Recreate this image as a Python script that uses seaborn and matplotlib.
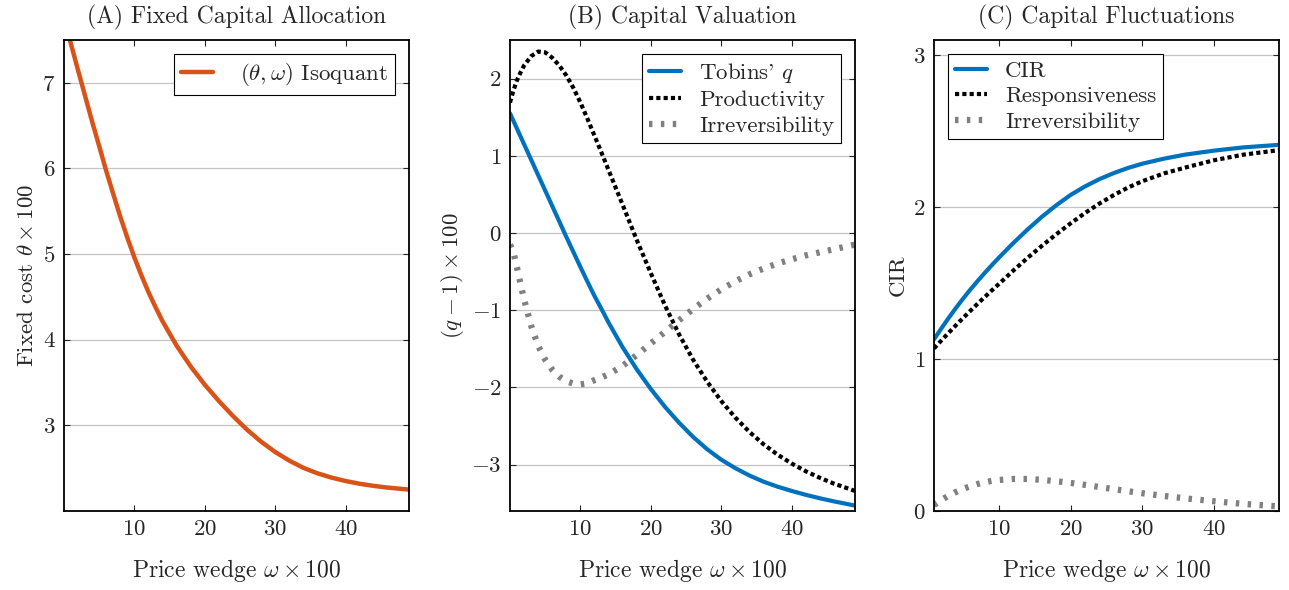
import matplotlib
matplotlib.use("Agg")
import matplotlib.pyplot as plt
import seaborn as sns

# price wedge grid used in panels A and B
omega_ab = [0, 0.5, 1, 1.5, 2, 3, 4, 5, 6, 7, 8, 9, 10, 11, 12, 13, 14, 16, 18, 20,
            22, 24, 26, 28, 30, 32, 34, 36, 38, 40, 42, 44, 46, 49]

# (A) fixed cost isoquant
isoquant = [7.76, 7.605, 7.45, 7.298, 7.145, 6.845, 6.545, 6.26, 5.97, 5.70, 5.435,
            5.19, 4.96, 4.75, 4.555, 4.38, 4.215, 3.93, 3.687, 3.474, 3.284, 3.109,
            2.949, 2.809, 2.689, 2.588, 2.504, 2.44, 2.39, 2.35, 2.318, 2.293, 2.273,
            2.25]

# (B) capital valuation
tobins_q = [1.55, 1.45, 1.35, 1.25, 1.15, 0.95, 0.75, 0.55, 0.35, 0.15, -0.05, -0.245,
            -0.44, -0.63, -0.815, -0.985, -1.16, -1.48, -1.765, -2.02, -2.25, -2.455,
            -2.64, -2.80, -2.935, -3.045, -3.14, -3.22, -3.285, -3.34, -3.39, -3.435,
            -3.475, -3.53]
productivity = [1.69, 1.85, 1.98, 2.08, 2.17, 2.29, 2.35, 2.34, 2.27, 2.17, 2.04, 1.88,
                1.69, 1.48, 1.26, 1.04, 0.815, 0.365, -0.09, -0.52, -0.935, -1.31,
                -1.64, -1.925, -2.175, -2.39, -2.575, -2.735, -2.87, -2.985, -3.085,
                -3.17, -3.245, -3.34]
irrev_b = [-0.15, -0.25, -0.45, -0.66, -0.86, -1.20, -1.46, -1.64, -1.77, -1.86, -1.92,
           -1.95, -1.96, -1.945, -1.905, -1.87, -1.83, -1.72, -1.58, -1.43, -1.28,
           -1.13, -0.985, -0.85, -0.73, -0.625, -0.535, -0.46, -0.395, -0.34, -0.29,
           -0.25, -0.21, -0.15]

# (C) capital fluctuations
omega_c = [1, 2, 3, 4, 5, 6, 7, 8, 9, 10, 12, 14, 16, 18, 20, 22, 24, 26, 28, 30,
           33, 36, 40, 44, 49]
cir = [1.13, 1.20, 1.268, 1.333, 1.395, 1.454, 1.51, 1.564, 1.616, 1.666, 1.762, 1.852,
       1.936, 2.012, 2.08, 2.136, 2.184, 2.224, 2.258, 2.286, 2.319, 2.346, 2.372,
       2.393, 2.41]
responsiveness = [1.07, 1.121, 1.171, 1.22, 1.268, 1.315, 1.361, 1.406, 1.45, 1.493,
                  1.581, 1.665, 1.745, 1.821, 1.893, 1.961, 2.023, 2.079, 2.129, 2.171,
                  2.222, 2.261, 2.309, 2.345, 2.375]
irrev_c = [0.04, 0.072, 0.10, 0.124, 0.145, 0.162, 0.177, 0.189, 0.198, 0.204, 0.211,
           0.211, 0.205, 0.196, 0.185, 0.172, 0.158, 0.144, 0.13, 0.117, 0.099, 0.083,
           0.064, 0.047, 0.03]

ORANGE = "#D95319"
BLUE = "#0072BD"
GRAY = "#808080"
DOT = (0, (1.0, 0.75))
LOOSE = (0, (0.55, 1.35))

sns.set_style("ticks")
plt.rcParams["font.family"] = "serif"
plt.rcParams["font.serif"] = ["cmr10"]
plt.rcParams["mathtext.fontset"] = "cm"
plt.rcParams["axes.formatter.use_mathtext"] = True
plt.rcParams["axes.unicode_minus"] = True

fig = plt.figure(figsize=(12.89, 5.9), dpi=100)
W, H = 1289, 590
lefts = [64, 510, 934]
axes = [fig.add_axes([l / W, 79 / H, 345 / W, 471 / H]) for l in lefts]


def style(ax):
    ax.grid(axis="y", color="#c4c4c4", lw=0.9)
    ax.grid(axis="x", visible=False)
    ax.tick_params(direction="in", top=True, right=True, length=4, width=0.8,
                   labelsize=16.5, pad=6)
    for s in ax.spines.values():
        s.set_color("black")
        s.set_linewidth(1.3)
    ax.set_xticks([10, 20, 30, 40])
    ax.set_xlabel(r"Price wedge $\omega \times 100$", fontsize=17, labelpad=13)


def legend(ax, loc, textpad):
    leg = ax.legend(loc=loc, fontsize=16.5, frameon=True, fancybox=False,
                    edgecolor="black", framealpha=1, handlelength=1.4,
                    handletextpad=textpad, borderpad=0.3, labelspacing=0.25,
                    borderaxespad=0.6)
    leg.get_frame().set_linewidth(0.8)


# (A)
ax = axes[0]
sns.lineplot(x=omega_ab, y=isoquant, ax=ax, color=ORANGE, lw=3.2,
             label=r"$(\theta, \omega)$ Isoquant")
ax.set_xlim(0, 49)
ax.set_ylim(2.0, 7.5)
ax.set_yticks([3, 4, 5, 6, 7])
ax.set_ylabel(r"Fixed cost $\theta \times 100$", fontsize=16.5)
ax.set_title("(A) Fixed Capital Allocation", fontsize=17, pad=12)
style(ax)
legend(ax, "upper right", 1.2)

# (B)
ax = axes[1]
sns.lineplot(x=omega_ab, y=tobins_q, ax=ax, color=BLUE, lw=3.0, label=r"Tobins' $q$")
sns.lineplot(x=omega_ab, y=productivity, ax=ax, color="black", lw=3.0,
             linestyle=DOT, label="Productivity")
sns.lineplot(x=omega_ab, y=irrev_b, ax=ax, color=GRAY, lw=4.5,
             linestyle=LOOSE, label="Irreversibility")
ax.set_xlim(0, 49)
ax.set_ylim(-3.6, 2.5)
ax.set_yticks([-3, -2, -1, 0, 1, 2])
ax.set_ylabel(r"$(q - 1) \times 100$", fontsize=16.5)
ax.set_title("(B) Capital Valuation", fontsize=17, pad=12)
style(ax)
legend(ax, "upper right", 0.8)

# (C)
ax = axes[2]
sns.lineplot(x=omega_c, y=cir, ax=ax, color=BLUE, lw=3.0, label="CIR")
sns.lineplot(x=omega_c, y=responsiveness, ax=ax, color="black", lw=3.0,
             linestyle=DOT, label="Responsiveness")
sns.lineplot(x=omega_c, y=irrev_c, ax=ax, color=GRAY, lw=4.5,
             linestyle=LOOSE, label="Irreversibility")
ax.set_xlim(1, 49)
ax.set_ylim(0, 3.1)
ax.set_yticks([0, 1, 2, 3])
ax.set_ylabel("CIR", fontsize=16.5)
ax.set_title("(C) Capital Fluctuations", fontsize=17, pad=12)
style(ax)
legend(ax, "upper left", 0.8)

fig.savefig("out.png", dpi=100)
